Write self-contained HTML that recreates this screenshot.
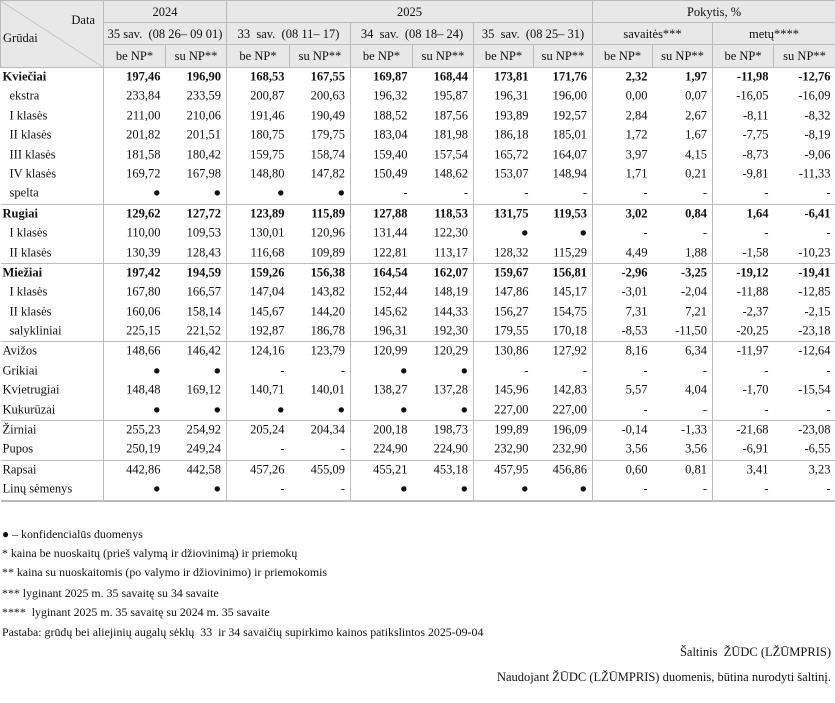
<!DOCTYPE html>
<html><head><meta charset="utf-8"><style>
body{margin:0;width:835px;height:703px;background:#fff;font-family:"Liberation Serif",serif;color:#111;position:relative;overflow:hidden}
table{position:absolute;left:0;top:0;border-collapse:collapse;table-layout:fixed;width:835px;font-size:12.5px}
td{padding:0 5px 0 0;text-align:right;white-space:nowrap;overflow:hidden}
tbody td{line-height:14px}
tbody td::before{content:"";display:inline-block;width:0;height:19.4px;vertical-align:middle}
td.l{text-align:left;padding-left:9px}
td.g{text-align:left;padding-left:2px;font-weight:bold}
td.o{text-align:left;padding-left:2px}
tr.b td{font-weight:bold}
tr.s td{border-top:1px solid #bbb}
td.v{border-left:1px solid #bbb}
thead td{background:#e8e8e8;text-align:center;border:1px solid #bbb;padding:0;height:21px;line-height:20px}
tbody tr:last-child td{border-bottom:2px solid #bbb}
.f{position:absolute;left:2px;font-size:12px;white-space:nowrap;transform-origin:0 0;transform:scaleX(0.99)}
.r{position:absolute;right:4px;font-size:12.5px;white-space:nowrap}
</style></head><body>
<table>
<colgroup><col style="width:103px"><col style="width:62px"><col style="width:61px"><col style="width:63px"><col style="width:61px"><col style="width:62px"><col style="width:61px"><col style="width:60px"><col style="width:59px"><col style="width:60px"><col style="width:60px"><col style="width:61px"><col style="width:62px"></colgroup>
<thead>
<tr><td rowspan="3" style="position:relative;text-align:left;background:#e8e8e8 linear-gradient(to top right,transparent 49.3%,#bbb 50%,transparent 50.7%)"><span style="position:absolute;right:8px;top:12px;line-height:14px">Data</span><span style="position:absolute;left:2px;top:30px;line-height:14px">Grūdai</span></td><td colspan="2">2024</td><td colspan="6">2025</td><td colspan="4">Pokytis, %</td></tr>
<tr><td colspan="2">35 sav.&nbsp; (08 26– 09 01)</td><td colspan="2">33&nbsp; sav.&nbsp; (08 11– 17)</td><td colspan="2">34&nbsp; sav.&nbsp; (08 18– 24)</td><td colspan="2">35&nbsp; sav.&nbsp; (08 25– 31)</td><td colspan="2">savaitės***</td><td colspan="2">metų****</td></tr>
<tr><td style="height:22px">be NP*</td><td>su NP**</td><td>be NP*</td><td>su NP**</td><td>be NP*</td><td>su NP**</td><td>be NP*</td><td>su NP**</td><td>be NP*</td><td>su NP**</td><td>be NP*</td><td>su NP**</td></tr>
</thead>
<tbody>
<tr class="b"><td class="g">Kviečiai</td><td class="v">197,46</td><td>196,90</td><td class="v">168,53</td><td>167,55</td><td class="v">169,87</td><td>168,44</td><td class="v">173,81</td><td>171,76</td><td class="v">2,32</td><td>1,97</td><td class="v">-11,98</td><td>-12,76</td></tr>
<tr><td class="l">ekstra</td><td class="v">233,84</td><td>233,59</td><td class="v">200,87</td><td>200,63</td><td class="v">196,32</td><td>195,87</td><td class="v">196,31</td><td>196,00</td><td class="v">0,00</td><td>0,07</td><td class="v">-16,05</td><td>-16,09</td></tr>
<tr><td class="l">I klasės</td><td class="v">211,00</td><td>210,06</td><td class="v">191,46</td><td>190,49</td><td class="v">188,52</td><td>187,56</td><td class="v">193,89</td><td>192,57</td><td class="v">2,84</td><td>2,67</td><td class="v">-8,11</td><td>-8,32</td></tr>
<tr><td class="l">II klasės</td><td class="v">201,82</td><td>201,51</td><td class="v">180,75</td><td>179,75</td><td class="v">183,04</td><td>181,98</td><td class="v">186,18</td><td>185,01</td><td class="v">1,72</td><td>1,67</td><td class="v">-7,75</td><td>-8,19</td></tr>
<tr><td class="l">III klasės</td><td class="v">181,58</td><td>180,42</td><td class="v">159,75</td><td>158,74</td><td class="v">159,40</td><td>157,54</td><td class="v">165,72</td><td>164,07</td><td class="v">3,97</td><td>4,15</td><td class="v">-8,73</td><td>-9,06</td></tr>
<tr><td class="l">IV klasės</td><td class="v">169,72</td><td>167,98</td><td class="v">148,80</td><td>147,82</td><td class="v">150,49</td><td>148,62</td><td class="v">153,07</td><td>148,94</td><td class="v">1,71</td><td>0,21</td><td class="v">-9,81</td><td>-11,33</td></tr>
<tr><td class="l">spelta</td><td class="v">●</td><td>●</td><td class="v">●</td><td>●</td><td class="v">-</td><td>-</td><td class="v">-</td><td>-</td><td class="v">-</td><td>-</td><td class="v">-</td><td>-</td></tr>
<tr class="b s"><td class="g">Rugiai</td><td class="v">129,62</td><td>127,72</td><td class="v">123,89</td><td>115,89</td><td class="v">127,88</td><td>118,53</td><td class="v">131,75</td><td>119,53</td><td class="v">3,02</td><td>0,84</td><td class="v">1,64</td><td>-6,41</td></tr>
<tr><td class="l">I klasės</td><td class="v">110,00</td><td>109,53</td><td class="v">130,01</td><td>120,96</td><td class="v">131,44</td><td>122,30</td><td class="v">●</td><td>●</td><td class="v">-</td><td>-</td><td class="v">-</td><td>-</td></tr>
<tr><td class="l">II klasės</td><td class="v">130,39</td><td>128,43</td><td class="v">116,68</td><td>109,89</td><td class="v">122,81</td><td>113,17</td><td class="v">128,32</td><td>115,29</td><td class="v">4,49</td><td>1,88</td><td class="v">-1,58</td><td>-10,23</td></tr>
<tr class="b s"><td class="g">Miežiai</td><td class="v">197,42</td><td>194,59</td><td class="v">159,26</td><td>156,38</td><td class="v">164,54</td><td>162,07</td><td class="v">159,67</td><td>156,81</td><td class="v">-2,96</td><td>-3,25</td><td class="v">-19,12</td><td>-19,41</td></tr>
<tr><td class="l">I klasės</td><td class="v">167,80</td><td>166,57</td><td class="v">147,04</td><td>143,82</td><td class="v">152,44</td><td>148,19</td><td class="v">147,86</td><td>145,17</td><td class="v">-3,01</td><td>-2,04</td><td class="v">-11,88</td><td>-12,85</td></tr>
<tr><td class="l">II klasės</td><td class="v">160,06</td><td>158,14</td><td class="v">145,67</td><td>144,20</td><td class="v">145,62</td><td>144,33</td><td class="v">156,27</td><td>154,75</td><td class="v">7,31</td><td>7,21</td><td class="v">-2,37</td><td>-2,15</td></tr>
<tr><td class="l">salykliniai</td><td class="v">225,15</td><td>221,52</td><td class="v">192,87</td><td>186,78</td><td class="v">196,31</td><td>192,30</td><td class="v">179,55</td><td>170,18</td><td class="v">-8,53</td><td>-11,50</td><td class="v">-20,25</td><td>-23,18</td></tr>
<tr class="s"><td class="o">Avižos</td><td class="v">148,66</td><td>146,42</td><td class="v">124,16</td><td>123,79</td><td class="v">120,99</td><td>120,29</td><td class="v">130,86</td><td>127,92</td><td class="v">8,16</td><td>6,34</td><td class="v">-11,97</td><td>-12,64</td></tr>
<tr><td class="o">Grikiai</td><td class="v">●</td><td>●</td><td class="v">-</td><td>-</td><td class="v">●</td><td>●</td><td class="v">-</td><td>-</td><td class="v">-</td><td>-</td><td class="v">-</td><td>-</td></tr>
<tr><td class="o">Kvietrugiai</td><td class="v">148,48</td><td>169,12</td><td class="v">140,71</td><td>140,01</td><td class="v">138,27</td><td>137,28</td><td class="v">145,96</td><td>142,83</td><td class="v">5,57</td><td>4,04</td><td class="v">-1,70</td><td>-15,54</td></tr>
<tr><td class="o">Kukurūzai</td><td class="v">●</td><td>●</td><td class="v">●</td><td>●</td><td class="v">●</td><td>●</td><td class="v">227,00</td><td>227,00</td><td class="v">-</td><td>-</td><td class="v">-</td><td>-</td></tr>
<tr class="s"><td class="o">Žirniai</td><td class="v">255,23</td><td>254,92</td><td class="v">205,24</td><td>204,34</td><td class="v">200,18</td><td>198,73</td><td class="v">199,89</td><td>196,09</td><td class="v">-0,14</td><td>-1,33</td><td class="v">-21,68</td><td>-23,08</td></tr>
<tr><td class="o">Pupos</td><td class="v">250,19</td><td>249,24</td><td class="v">-</td><td>-</td><td class="v">224,90</td><td>224,90</td><td class="v">232,90</td><td>232,90</td><td class="v">3,56</td><td>3,56</td><td class="v">-6,91</td><td>-6,55</td></tr>
<tr class="s"><td class="o">Rapsai</td><td class="v">442,86</td><td>442,58</td><td class="v">457,26</td><td>455,09</td><td class="v">455,21</td><td>453,18</td><td class="v">457,95</td><td>456,86</td><td class="v">0,60</td><td>0,81</td><td class="v">3,41</td><td>3,23</td></tr>
<tr><td class="o">Linų sėmenys</td><td class="v">●</td><td>●</td><td class="v">-</td><td>-</td><td class="v">●</td><td>●</td><td class="v">●</td><td>●</td><td class="v">-</td><td>-</td><td class="v">-</td><td>-</td></tr>
</tbody></table>
<div class="f" style="top:527px">● – konfidencialūs duomenys</div>
<div class="f" style="top:546px">* kaina be nuoskaitų (prieš valymą ir džiovinimą) ir priemokų</div>
<div class="f" style="top:565px">** kaina su nuoskaitomis (po valymo ir džiovinimo) ir priemokomis</div>
<div class="f" style="top:586px">*** lyginant 2025 m. 35 savaitę su 34 savaite</div>
<div class="f" style="top:605px">****&nbsp; lyginant 2025 m. 35 savaitę su 2024 m. 35 savaite</div>
<div class="f" style="top:625px">Pastaba: grūdų bei aliejinių augalų sėklų&nbsp; 33&nbsp; ir 34 savaičių supirkimo kainos patikslintos 2025-09-04</div>
<div class="r" style="top:645px">Šaltinis&nbsp; ŽŪDC (LŽŪMPRIS)</div>
<div class="r" style="top:670px">Naudojant ŽŪDC (LŽŪMPRIS) duomenis, būtina nurodyti šaltinį.</div>
</body></html>
